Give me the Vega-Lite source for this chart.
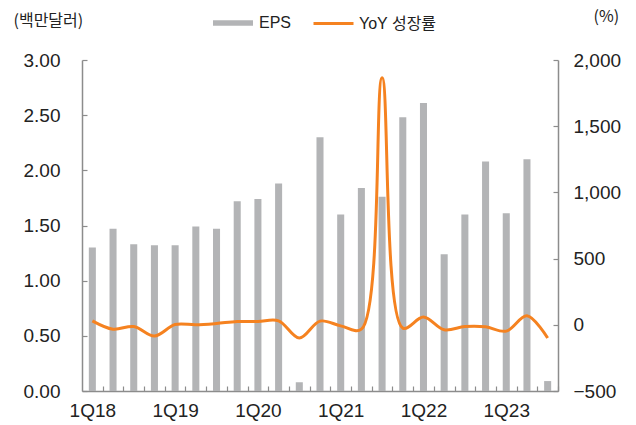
{
  "$schema": "https://vega.github.io/schema/vega-lite/v6.json",
  "autosize": {"type": "none"},
  "padding": {"left": 82, "top": 60, "right": 78, "bottom": 34},
  "width": 476,
  "height": 331,
  "background": "white",
  "config": {
    "view": {"stroke": null},
    "font": "Liberation Sans, Noto Sans CJK KR",
    "axis": {"labelFont": "Liberation Sans, Noto Sans CJK KR", "titleFont": "Noto Sans CJK KR, Liberation Sans", "labelColor": "#222", "titleColor": "#222", "domainColor": "#8c8c8c", "tickColor": "#8c8c8c", "domainWidth": 1.5, "tickWidth": 1.2, "grid": false},
    "legend": {"labelFont": "Liberation Sans, Noto Sans CJK KR", "labelFontSize": 16, "labelColor": "#222"}
  },
  "data": {"values": [
    {"q": "1Q18", "eps": 1.30, "yoy": 30},
    {"q": "2Q18", "eps": 1.47, "yoy": -33},
    {"q": "3Q18", "eps": 1.33, "yoy": -13},
    {"q": "4Q18", "eps": 1.32, "yoy": -85},
    {"q": "1Q19", "eps": 1.32, "yoy": 2},
    {"q": "2Q19", "eps": 1.49, "yoy": 0},
    {"q": "3Q19", "eps": 1.47, "yoy": 10},
    {"q": "4Q19", "eps": 1.72, "yoy": 25},
    {"q": "1Q20", "eps": 1.74, "yoy": 25},
    {"q": "2Q20", "eps": 1.88, "yoy": 30},
    {"q": "3Q20", "eps": 0.08, "yoy": -100},
    {"q": "4Q20", "eps": 2.30, "yoy": 28},
    {"q": "1Q21", "eps": 1.60, "yoy": -8},
    {"q": "2Q21", "eps": 1.84, "yoy": -33},
    {"q": "3Q21", "eps": 1.76, "yoy": 1866},
    {"q": "4Q21", "eps": 2.48, "yoy": -25},
    {"q": "1Q22", "eps": 2.61, "yoy": 58},
    {"q": "2Q22", "eps": 1.24, "yoy": -38},
    {"q": "3Q22", "eps": 1.60, "yoy": -13},
    {"q": "4Q22", "eps": 2.08, "yoy": -15},
    {"q": "1Q23", "eps": 1.61, "yoy": -48},
    {"q": "2Q23", "eps": 2.10, "yoy": 68},
    {"q": "3Q23", "eps": 0.09, "yoy": -100}
  ]},
  "encoding": {
    "x": {
      "field": "q", "type": "nominal", "sort": null,
      "scale": {"paddingInner": 0.66, "paddingOuter": 0.33},
      "axis": {
        "title": null, "labelAngle": 0, "labelFontSize": 19, "labelOverlap": false,
        "labelExpr": "indexof(datum.value, '1Q') == 0 ? datum.value : ''",
        "tickSize": -5, "labelPadding": 15, "tickOffset": 10.35, "labelOffset": -10.35
      }
    }
  },
  "layer": [
    {
      "mark": {"type": "bar", "color": "#b3b4b6"},
      "encoding": {
        "y": {
          "field": "eps", "type": "quantitative",
          "scale": {"domain": [0, 3], "nice": false},
          "axis": {
            "orient": "left", "values": [0, 0.5, 1, 1.5, 2, 2.5, 3], "format": ".2f",
            "labelFontSize": 19, "tickSize": -5, "labelPadding": 27,
            "title": "(백만달러)", "titleAngle": 0, "titleAlign": "left", "titleBaseline": "middle",
            "titleX": -69, "titleY": -40, "titleFontSize": 16, "titleFontWeight": "normal"
          }
        },
        "color": {
          "datum": "EPS", "type": "nominal",
          "scale": {"range": ["#b3b4b6"]},
          "legend": {
            "title": null, "orient": "none", "legendX": 130, "legendY": -58,
            "symbolType": "M-1,-0.14L1,-0.14L1,0.14L-1,0.14Z", "symbolSize": 1600,
            "labelOffset": 5
          }
        }
      }
    },
    {
      "mark": {"type": "line", "interpolate": "catmull-rom", "strokeWidth": 3, "color": "#f58220"},
      "encoding": {
        "y": {
          "field": "yoy", "type": "quantitative",
          "scale": {"domain": [-500, 2000], "nice": false},
          "axis": {
            "orient": "right", "values": [-500, 0, 500, 1000, 1500, 2000], "format": ",d",
            "labelFontSize": 19, "tickSize": -5, "labelPadding": 20,
            "title": "(%)", "titleAngle": 0, "titleAlign": "left", "titleBaseline": "middle",
            "titleX": 35, "titleY": -44, "titleFontSize": 16, "titleFontWeight": "normal"
          }
        },
        "stroke": {
          "datum": "YoY 성장률", "type": "nominal",
          "scale": {"range": ["#f58220"]},
          "legend": {
            "title": null, "orient": "none", "legendX": 230, "legendY": -58,
            "symbolType": "stroke", "symbolSize": 1600, "symbolStrokeWidth": 3,
            "labelOffset": 4
          }
        }
      }
    }
  ],
  "resolve": {"scale": {"y": "independent", "color": "independent", "stroke": "independent"}}
}
